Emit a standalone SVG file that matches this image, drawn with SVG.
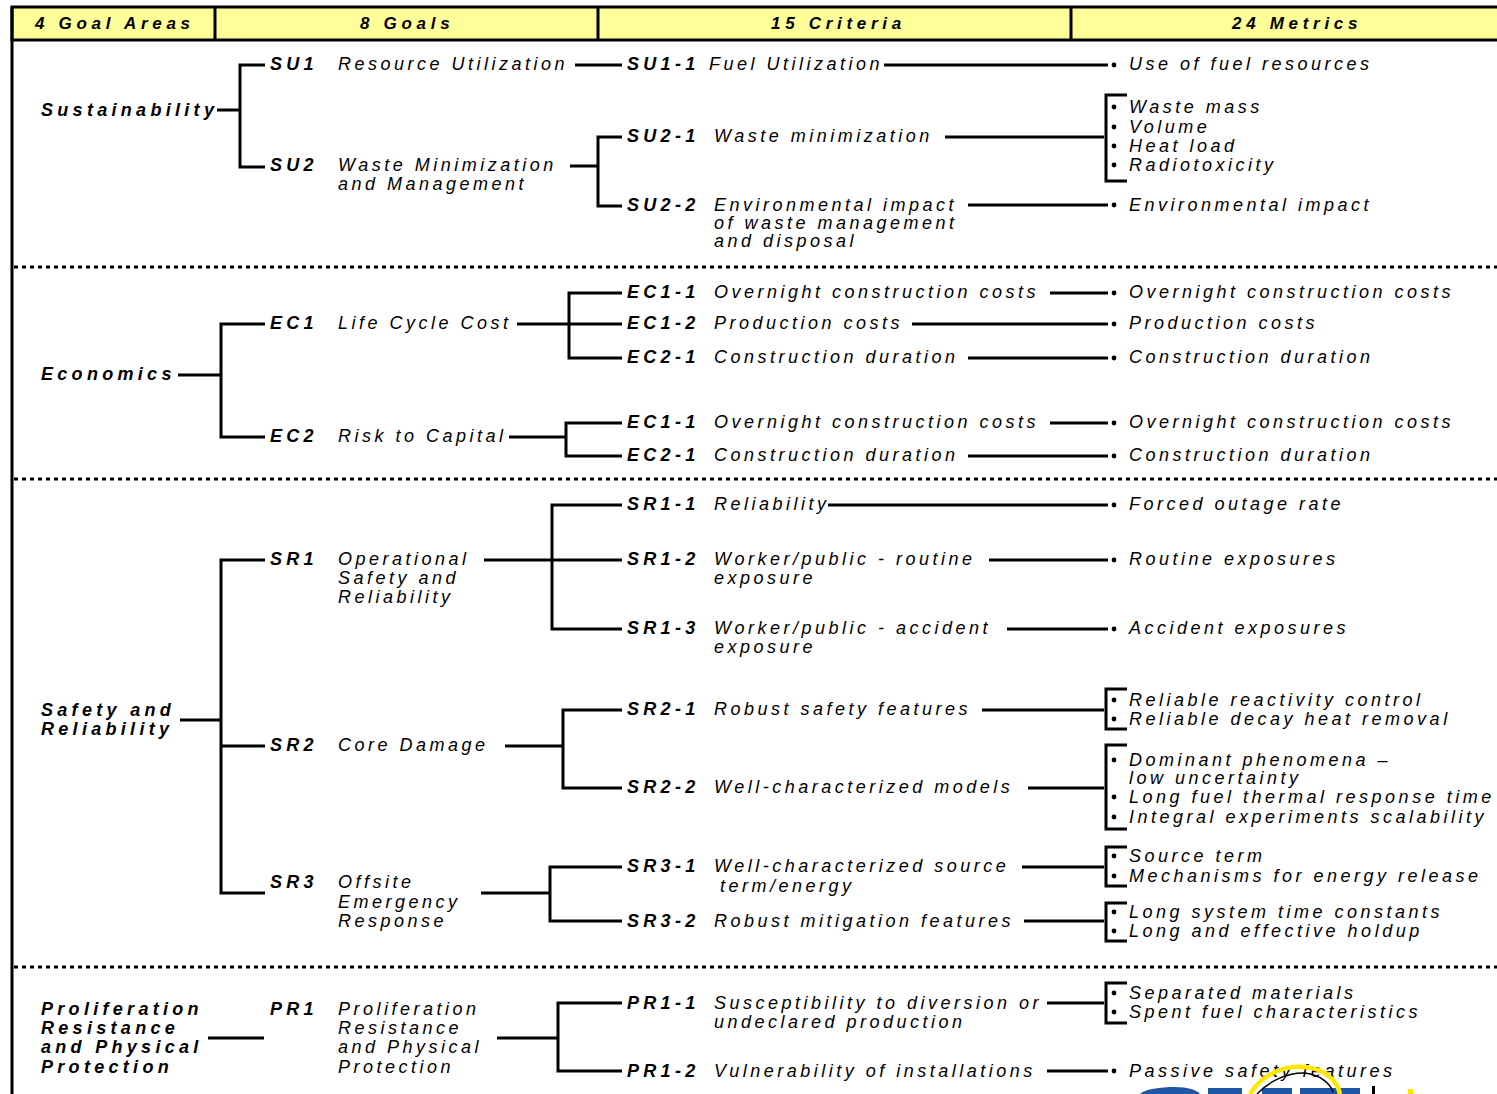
<svg xmlns="http://www.w3.org/2000/svg" width="1497" height="1094" viewBox="0 0 1497 1094">
<style>
.t{font-family:"Liberation Sans",Arial,sans-serif;font-style:italic;font-size:18px;letter-spacing:3.5px;fill:#000}
.b{font-weight:bold;letter-spacing:4.3px}
.h{font-family:"Liberation Sans",Arial,sans-serif;font-style:italic;font-weight:bold;font-size:17px;letter-spacing:4.7px;fill:#000}
.c{fill:none;stroke:#000;stroke-width:3}
.d{fill:none;stroke:#000;stroke-width:3;stroke-dasharray:4 4}
.bl{fill:#000}
</style>
<rect width="1497" height="1094" fill="#fff"/>
<g id="header">
<rect x="12" y="7" width="1490" height="33" fill="#FFFF99" stroke="#000" stroke-width="3"/>
<path class="c" d="M215 7V40M598 7V40M1071 7V40"/>
<text class="h" x="35" y="29">4 Goal Areas</text>
<text class="h" x="360" y="29">8 Goals</text>
<text class="h" x="771" y="29">15 Criteria</text>
<text class="h" x="1232" y="29">24 Metrics</text>
</g>
<g id="frame">
<path class="c" d="M12 7V1094"/>
<path class="d" d="M14 267H1497M14 479H1497M14 967H1497"/>
</g>
<g id="connectors">
<path class="c" d="M217 110H240M265 65H240V167H265M575 65H622M570 166H598M622 137H598V206H622M884 65H1108M945 137H1104M1127 95H1106V181H1127M968 205H1108"/>
<path class="c" d="M178 375H221M265 324H221V437H265M517 324H622M622 293H569V358H622M1050 293H1108M912 324H1108M968 358H1108M509 437H566M622 423H566V456H622M1050 423H1108M968 456H1108"/>
<path class="c" d="M180 720H221M265 560H221V893H265M221 746H265M484 560H622M622 505H552V629H622M828 505H1108M989 560H1108M1007 629H1108M505 746H563M622 710H563V788H622M982 710H1104M1127 689H1106V729H1127M1028 788H1104M1127 745H1106V829H1127M481 893H550M622 867H550V921H622M1022 867H1104M1127 847H1106V886H1127M1024 921H1104M1127 903H1106V941H1127"/>
<path class="c" d="M208 1038H264M497 1038H558M622 1003H558V1071H622M1047 1003H1104M1127 983H1106V1023H1127M1047 1071H1108"/>
</g>
<g id="ga-sustainability"><text class="t b" x="41" y="116">Sustainability</text></g>
<g id="ga-economics"><text class="t b" x="41" y="380">Economics</text></g>
<g id="ga-safety"><text class="t b" x="41" y="716">Safety and</text><text class="t b" x="41" y="735">Reliability</text></g>
<g id="ga-proliferation"><text class="t b" x="41" y="1015">Proliferation</text><text class="t b" x="41" y="1034">Resistance</text><text class="t b" x="41" y="1053">and Physical</text><text class="t b" x="41" y="1073">Protection</text></g>
<g id="goal-su1"><text class="t b" x="270" y="70">SU1</text><text class="t" x="338" y="70">Resource Utilization</text></g>
<g id="goal-su2"><text class="t b" x="270" y="171">SU2</text><text class="t" x="338" y="171">Waste Minimization</text><text class="t" x="338" y="190">and Management</text></g>
<g id="goal-ec1"><text class="t b" x="270" y="329">EC1</text><text class="t" x="338" y="329">Life Cycle Cost</text></g>
<g id="goal-ec2"><text class="t b" x="270" y="442">EC2</text><text class="t" x="338" y="442">Risk to Capital</text></g>
<g id="goal-sr1"><text class="t b" x="270" y="565">SR1</text><text class="t" x="338" y="565">Operational</text><text class="t" x="338" y="584">Safety and</text><text class="t" x="338" y="603">Reliability</text></g>
<g id="goal-sr2"><text class="t b" x="270" y="751">SR2</text><text class="t" x="338" y="751">Core Damage</text></g>
<g id="goal-sr3"><text class="t b" x="270" y="888">SR3</text><text class="t" x="338" y="888">Offsite</text><text class="t" x="338" y="908">Emergency</text><text class="t" x="338" y="927">Response</text></g>
<g id="goal-pr1"><text class="t b" x="270" y="1015">PR1</text><text class="t" x="338" y="1015">Proliferation</text><text class="t" x="338" y="1034">Resistance</text><text class="t" x="338" y="1053">and Physical</text><text class="t" x="338" y="1073">Protection</text></g>
<g id="crit-su1-1"><text class="t b" x="627" y="70">SU1-1</text><text class="t" x="709" y="70">Fuel Utilization</text></g>
<g id="crit-su2-1"><text class="t b" x="627" y="142">SU2-1</text><text class="t" x="714" y="142">Waste minimization</text></g>
<g id="crit-su2-2"><text class="t b" x="627" y="211">SU2-2</text><text class="t" x="714" y="211">Environmental impact</text><text class="t" x="714" y="229">of waste management</text><text class="t" x="714" y="247">and disposal</text></g>
<g id="crit-ec1-1a"><text class="t b" x="627" y="298">EC1-1</text><text class="t" x="714" y="298">Overnight construction costs</text></g>
<g id="crit-ec1-2"><text class="t b" x="627" y="329">EC1-2</text><text class="t" x="714" y="329">Production costs</text></g>
<g id="crit-ec2-1a"><text class="t b" x="627" y="363">EC2-1</text><text class="t" x="714" y="363">Construction duration</text></g>
<g id="crit-ec1-1b"><text class="t b" x="627" y="428">EC1-1</text><text class="t" x="714" y="428">Overnight construction costs</text></g>
<g id="crit-ec2-1b"><text class="t b" x="627" y="461">EC2-1</text><text class="t" x="714" y="461">Construction duration</text></g>
<g id="crit-sr1-1"><text class="t b" x="627" y="510">SR1-1</text><text class="t" x="714" y="510">Reliability</text></g>
<g id="crit-sr1-2"><text class="t b" x="627" y="565">SR1-2</text><text class="t" x="714" y="565">Worker/public - routine</text><text class="t" x="714" y="584">exposure</text></g>
<g id="crit-sr1-3"><text class="t b" x="627" y="634">SR1-3</text><text class="t" x="714" y="634">Worker/public - accident</text><text class="t" x="714" y="653">exposure</text></g>
<g id="crit-sr2-1"><text class="t b" x="627" y="715">SR2-1</text><text class="t" x="714" y="715">Robust safety features</text></g>
<g id="crit-sr2-2"><text class="t b" x="627" y="793">SR2-2</text><text class="t" x="714" y="793">Well-characterized models</text></g>
<g id="crit-sr3-1"><text class="t b" x="627" y="872">SR3-1</text><text class="t" x="714" y="872">Well-characterized source</text><text class="t" x="720" y="892">term/energy</text></g>
<g id="crit-sr3-2"><text class="t b" x="627" y="927">SR3-2</text><text class="t" x="714" y="927">Robust mitigation features</text></g>
<g id="crit-pr1-1"><text class="t b" x="627" y="1009">PR1-1</text><text class="t" x="714" y="1009">Susceptibility to diversion or</text><text class="t" x="714" y="1028">undeclared production</text></g>
<g id="crit-pr1-2"><text class="t b" x="627" y="1077">PR1-2</text><text class="t" x="714" y="1077">Vulnerability of installations</text></g>
<g id="metrics">
<g id="m-su1-1"><circle class="bl" cx="1114" cy="65" r="2.4"/><text class="t" x="1129" y="70">Use of fuel resources</text></g>
<g id="m-su2-1"><circle class="bl" cx="1114" cy="107" r="2.4"/><text class="t" x="1129" y="113">Waste mass</text><circle class="bl" cx="1114" cy="127" r="2.4"/><text class="t" x="1129" y="133">Volume</text><circle class="bl" cx="1114" cy="146" r="2.4"/><text class="t" x="1129" y="152">Heat load</text><circle class="bl" cx="1114" cy="165" r="2.4"/><text class="t" x="1129" y="171">Radiotoxicity</text></g>
<g id="m-su2-2"><circle class="bl" cx="1114" cy="205" r="2.4"/><text class="t" x="1129" y="211">Environmental impact</text></g>
<g id="m-ec1-1a"><circle class="bl" cx="1114" cy="293" r="2.4"/><text class="t" x="1129" y="298">Overnight construction costs</text></g>
<g id="m-ec1-2"><circle class="bl" cx="1114" cy="324" r="2.4"/><text class="t" x="1129" y="329">Production costs</text></g>
<g id="m-ec2-1a"><circle class="bl" cx="1114" cy="358" r="2.4"/><text class="t" x="1129" y="363">Construction duration</text></g>
<g id="m-ec1-1b"><circle class="bl" cx="1114" cy="423" r="2.4"/><text class="t" x="1129" y="428">Overnight construction costs</text></g>
<g id="m-ec2-1b"><circle class="bl" cx="1114" cy="456" r="2.4"/><text class="t" x="1129" y="461">Construction duration</text></g>
<g id="m-sr1-1"><circle class="bl" cx="1114" cy="505" r="2.4"/><text class="t" x="1129" y="510">Forced outage rate</text></g>
<g id="m-sr1-2"><circle class="bl" cx="1114" cy="560" r="2.4"/><text class="t" x="1129" y="565">Routine exposures</text></g>
<g id="m-sr1-3"><circle class="bl" cx="1114" cy="629" r="2.4"/><text class="t" x="1129" y="634">Accident exposures</text></g>
<g id="m-sr2-1"><circle class="bl" cx="1114" cy="700" r="2.4"/><text class="t" x="1129" y="706">Reliable reactivity control</text><circle class="bl" cx="1114" cy="719" r="2.4"/><text class="t" x="1129" y="725">Reliable decay heat removal</text></g>
<g id="m-sr2-2"><circle class="bl" cx="1114" cy="760" r="2.4"/><text class="t" x="1129" y="766">Dominant phenomena –</text><text class="t" x="1129" y="784">low uncertainty</text><circle class="bl" cx="1114" cy="797" r="2.4"/><text class="t" x="1129" y="803">Long fuel thermal response time</text><circle class="bl" cx="1114" cy="817" r="2.4"/><text class="t" x="1129" y="823">Integral experiments scalability</text></g>
<g id="m-sr3-1"><circle class="bl" cx="1114" cy="856" r="2.4"/><text class="t" x="1129" y="862">Source term</text><circle class="bl" cx="1114" cy="876" r="2.4"/><text class="t" x="1129" y="882">Mechanisms for energy release</text></g>
<g id="m-sr3-2"><circle class="bl" cx="1114" cy="912" r="2.4"/><text class="t" x="1129" y="918">Long system time constants</text><circle class="bl" cx="1114" cy="931" r="2.4"/><text class="t" x="1129" y="937">Long and effective holdup</text></g>
<g id="m-pr1-1"><circle class="bl" cx="1114" cy="993" r="2.4"/><text class="t" x="1129" y="999">Separated materials</text><circle class="bl" cx="1114" cy="1012" r="2.4"/><text class="t" x="1129" y="1018">Spent fuel characteristics</text></g>
<g id="m-pr1-2"><circle class="bl" cx="1114" cy="1071" r="2.4"/><text class="t" x="1129" y="1077">Passive safety features</text></g>
</g>
<g id="logo">
<path d="M1140 1094C1145 1089 1160 1087 1175 1087C1188 1087 1197 1090 1200 1094Z" fill="#1F57A8"/>
<rect x="1208" y="1088" width="34" height="6" fill="#1F57A8"/>
<rect x="1262" y="1088" width="30" height="6" fill="#1F57A8"/>
<rect x="1300" y="1088" width="60" height="6" fill="#1F57A8"/>
<path d="M1250 1094C1262 1074 1285 1065 1305 1067C1325 1069 1337 1080 1340 1094" fill="none" stroke="#FFE800" stroke-width="4.5"/>
<path d="M1257 1094C1270 1080 1290 1072 1305 1073C1320 1075 1330 1083 1333 1092" fill="none" stroke="#000" stroke-width="1.5"/>
<rect x="1372" y="1086" width="3" height="8" fill="#000"/>
<rect x="1408" y="1089" width="5" height="5" fill="#FFE800"/>
</g>
</svg>
